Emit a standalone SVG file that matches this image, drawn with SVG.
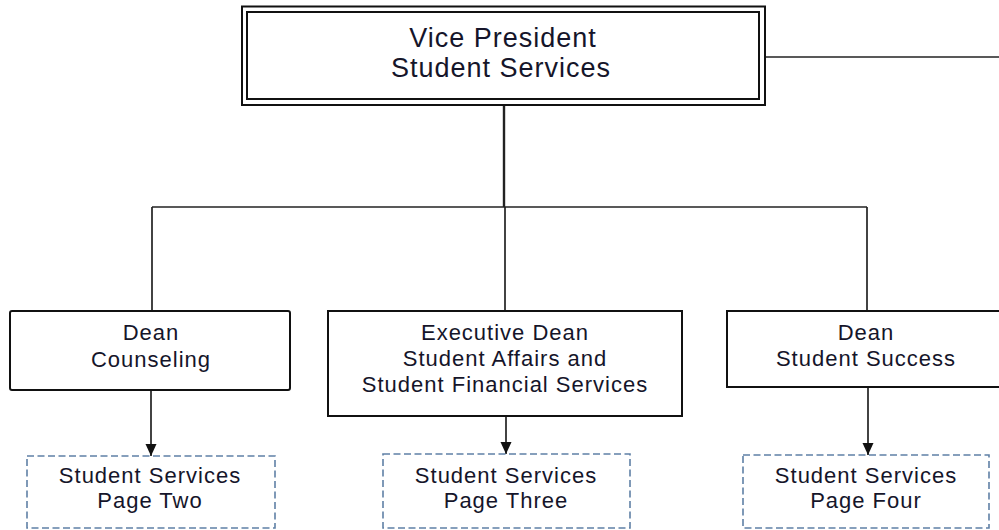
<svg xmlns="http://www.w3.org/2000/svg" width="999" height="530" viewBox="0 0 999 530">
<style>
text{font-family:"Liberation Sans",Arial,sans-serif;fill:#15152a;text-anchor:middle;letter-spacing:1px}
.t{font-size:27px}
.s{font-size:22px}
.box{fill:#fff;stroke:#111;stroke-width:2}
.dash{fill:#fff;stroke:#5f80a6;stroke-width:1.6;stroke-dasharray:7 3.5}
.ln{fill:none;stroke:#222;stroke-width:1.7}
</style>
<defs>
<marker id="ah" viewBox="0 0 12 12" refX="12" refY="6" markerWidth="12" markerHeight="12" markerUnits="userSpaceOnUse" orient="auto">
<path d="M0,0.5L12,6L0,11.5z" fill="#111"/>
</marker>
</defs>
<rect width="999" height="530" fill="#fff"/>
<g id="connectors">
<line class="ln" x1="765" y1="57" x2="999" y2="57"/>
<line class="ln" x1="504" y1="105" x2="504" y2="207" style="stroke-width:2.4"/>
<line class="ln" x1="152" y1="207" x2="867" y2="207"/>
<line class="ln" x1="152" y1="207" x2="152" y2="310"/>
<line class="ln" x1="505" y1="207" x2="505" y2="311"/>
<line class="ln" x1="867" y1="207" x2="867" y2="311"/>
<line class="ln" x1="151" y1="390" x2="151" y2="456" marker-end="url(#ah)"/>
<line class="ln" x1="506" y1="416" x2="506" y2="454" marker-end="url(#ah)"/>
<line class="ln" x1="868" y1="387" x2="868" y2="455" marker-end="url(#ah)"/>
</g>
<g id="vp">
<rect x="242" y="6.5" width="523" height="98.5" fill="#fff" stroke="#111" stroke-width="2"/>
<rect x="247" y="12" width="512" height="87" fill="none" stroke="#111" stroke-width="2"/>
<text class="t" x="503" y="47">Vice President</text>
<text class="t" x="501" y="77">Student Services</text>
</g>
<g id="dean-counseling">
<rect class="box" x="10" y="311" width="280" height="79" rx="2"/>
<text class="s" x="151" y="340">Dean</text>
<text class="s" x="151" y="367">Counseling</text>
</g>
<g id="exec-dean">
<rect class="box" x="328" y="311" width="354" height="105"/>
<text class="s" x="505" y="340">Executive Dean</text>
<text class="s" x="505" y="366">Student Affairs and</text>
<text class="s" x="505" y="392">Student Financial Services</text>
</g>
<g id="dean-success">
<rect class="box" x="727" y="311" width="280" height="76"/>
<text class="s" x="866" y="340">Dean</text>
<text class="s" x="866" y="366">Student Success</text>
</g>
<g id="page-two">
<rect class="dash" x="27" y="456" width="248" height="72"/>
<text class="s" x="150" y="483">Student Services</text>
<text class="s" x="150" y="508">Page Two</text>
</g>
<g id="page-three">
<rect class="dash" x="383" y="454" width="247" height="74"/>
<text class="s" x="506" y="483">Student Services</text>
<text class="s" x="506" y="508">Page Three</text>
</g>
<g id="page-four">
<rect class="dash" x="743" y="455" width="246" height="73"/>
<text class="s" x="866" y="483">Student Services</text>
<text class="s" x="866" y="508">Page Four</text>
</g>
</svg>
